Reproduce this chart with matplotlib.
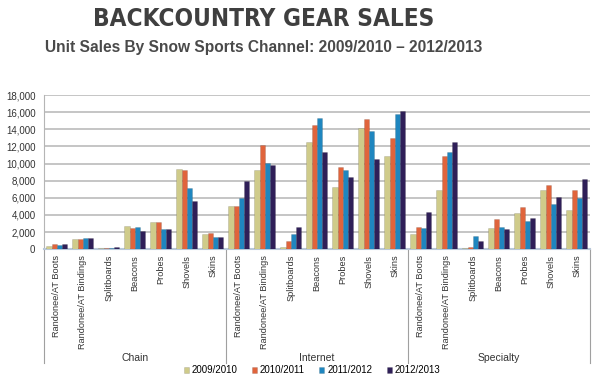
# Продажи снаряжения по каналам
import matplotlib.pyplot as plt
import numpy as np

plt.rcParams["font.family"] = ["Liberation Sans", "DejaVu Sans"]

# набор данных
channels = ["Chain", "Internet", "Specialty"]
products = ["Randonee/AT Boots", "Randonee/AT Bindings", "Splitboards", "Beacons",
            "Probes", "Shovels", "Skins"]
seasons = ["2009/2010", "2010/2011", "2011/2012", "2012/2013"]
chain = [[400, 1150, 150, 2700, 3200, 9400, 1750],
         [600, 1150, 150, 2450, 3200, 9300, 1850],
         [500, 1300, 150, 2600, 2300, 7100, 1450],
         [600, 1250, 200, 2150, 2300, 5600, 1450]]
internet = [[5100, 9200, 200, 12500, 7300, 14200, 10900],
            [5000, 12200, 900, 14500, 9600, 15200, 13000],
            [6000, 10100, 1800, 15300, 9200, 13800, 15800],
            [8000, 9800, 2600, 11400, 8400, 10500, 16100]]
specialty = [[1800, 6900, 100, 2500, 4200, 6900, 4600],
             [2600, 10900, 300, 3500, 4900, 7500, 6900],
             [2500, 11400, 1500, 2600, 3300, 5300, 6000],
             [4300, 12500, 900, 2300, 3600, 6100, 8200]]
colors = ["#cfcb8a", "#e0643c", "#1f86bf", "#2f1f58"]

fig = plt.figure(figsize=(6, 3.77), dpi=100)
ax = fig.add_axes([0.073, 0.339, 0.910, 0.409])

n = len(products)
x = np.arange(n * len(channels))
w = 0.2
for i, s in enumerate(seasons):
    vals = chain[i] + internet[i] + specialty[i]
    ax.bar(x + (i - 1.5) * w, vals, width=w, color=colors[i], edgecolor="#00000030",
           linewidth=0.4, label=s, zorder=3)

ax.set_ylim(0, 18000)
ax.set_xlim(-0.5, n * len(channels) - 0.5)
ax.set_yticks(range(0, 18001, 2000))
ax.set_yticklabels([f"{v:,}" for v in range(0, 18001, 2000)], fontsize=7, color="#333333")
ax.yaxis.grid(True, color="#b5b5b5", linewidth=1.1, zorder=0)
ax.set_axisbelow(True)
ax.tick_params(axis="y", length=0, pad=6)
ax.tick_params(axis="x", length=0, pad=4)
ax.set_xticks(x)
ax.set_xticklabels(products * len(channels), rotation=90, fontsize=6.6, color="#333333", va="top")
for sp in ["top", "right"]:
    ax.spines[sp].set_visible(False)
ax.spines["left"].set_color("#b5b5b5")
ax.spines["bottom"].set_color("#b9c8d8")
ax.spines["bottom"].set_linewidth(1.5)

# разделители групп и подписи каналов
tr = ax.get_xaxis_transform()
for k in range(len(channels) + 1):
    ax.plot([k * n - 0.5] * 2, [0, -0.74], transform=tr, color="#a0a0a0", lw=0.8, clip_on=False)
for k, c in enumerate(channels):
    ax.text(k * n + (n - 1) / 2, -0.705, c, transform=tr, ha="center", va="center",
            fontsize=7.5, color="#333333")

# заголовки
fig.text(0.44, 0.95, "BACKCOUNTRY GEAR SALES", ha="center", va="center", fontsize=17.5,
         fontweight="bold", fontstretch="condensed", color="#3f3f3f",
         family=["DejaVu Sans", "Liberation Sans"])
fig.text(0.44, 0.875, "Unit Sales By Snow Sports Channel: 2009/2010 \u2013 2012/2013",
         ha="center", va="center", fontsize=11.2, fontweight="bold", color="#4a4a4a")

# легенда (в оригинале обрезана снизу; здесь поднята, чтобы текст был виден целиком)
fig.legend(loc="center", bbox_to_anchor=(0.52, 0.018), ncol=4, frameon=False, fontsize=7,
           handlelength=0.5, handleheight=0.5, columnspacing=1.5, handletextpad=0.3,
           borderpad=0.1)

fig.savefig("out.png", dpi=100)
